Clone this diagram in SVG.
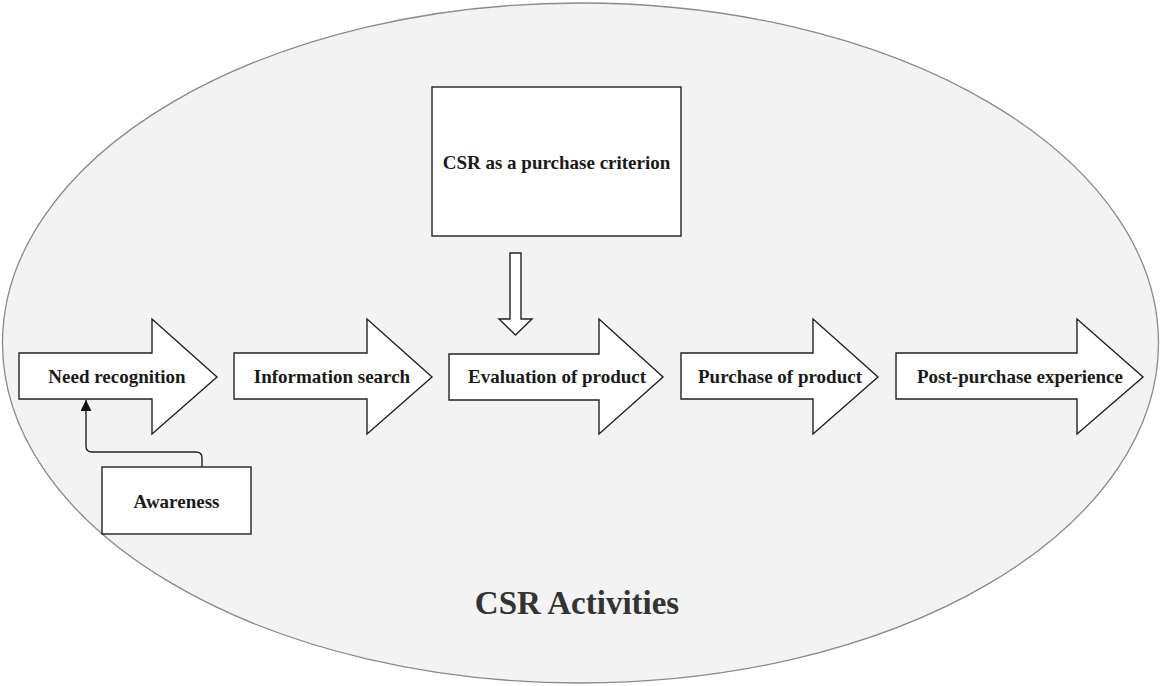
<svg xmlns="http://www.w3.org/2000/svg" width="1163" height="686" viewBox="0 0 1163 686">
<defs>
<style>
.shape{fill:#ffffff;stroke:#222222;stroke-width:1.4}
.lbl{font-family:"Liberation Serif","Times New Roman",serif;font-weight:bold;font-size:19px;fill:#1a1a1a;text-anchor:middle}
.title{font-family:"Liberation Serif","Times New Roman",serif;font-weight:bold;font-size:33px;fill:#333333;text-anchor:middle}
.conn{fill:none;stroke:#222222;stroke-width:1.4}
</style>
<marker id="ah" viewBox="0 0 10 10" refX="10" refY="5" markerWidth="11" markerHeight="11" markerUnits="userSpaceOnUse" orient="auto">
<path d="M0,0 L10,5 L0,10 Z" fill="#111111"/>
</marker>
</defs>
<rect width="1163" height="686" fill="#ffffff"/>
<g id="csr-activities">
<ellipse cx="580.5" cy="343" rx="578" ry="340" fill="#f3f3f3" stroke="#8a8a8a" stroke-width="1.3"/>
<text class="title" x="577" y="614">CSR Activities</text>
</g>
<g id="csr-criterion">
<rect class="shape" x="432" y="87" width="249" height="149"/>
<text class="lbl" x="556.5" y="169">CSR as a purchase criterion</text>
</g>
<g id="need-recognition">
<polygon class="shape" points="19,353 152,353 152,319 217,377 152,434 152,399 19,399"/>
<text class="lbl" x="117" y="383">Need recognition</text>
</g>
<g id="information-search">
<polygon class="shape" points="234,353 367,353 367,319 432,377 367,434 367,399 234,399"/>
<text class="lbl" x="332" y="383">Information search</text>
</g>
<g id="evaluation">
<polygon class="shape" points="449,354 599,354 599,319 663,377 599,434 599,400 449,400"/>
<text class="lbl" x="557" y="383">Evaluation of product</text>
</g>
<g id="purchase">
<polygon class="shape" points="681,353 813,353 813,319 878,377 813,434 813,399 681,399"/>
<text class="lbl" x="780" y="383">Purchase of product</text>
</g>
<g id="post-purchase">
<polygon class="shape" points="896,353 1077,353 1077,319 1143,377 1077,434 1077,399 896,399"/>
<text class="lbl" x="1020" y="383">Post-purchase experience</text>
</g>
<g id="awareness">
<rect class="shape" x="102" y="467" width="149" height="67"/>
<text class="lbl" x="176.5" y="508">Awareness</text>
</g>
<g id="connectors">
<path class="conn" d="M202,467 L202,458 Q202,452 196,452 L92,452 Q86,452 86,446 L86,400" marker-end="url(#ah)"/>
<polygon class="shape" points="510,253 521,253 521,319 532,319 515.5,335 499,319 510,319"/>
</g>
</svg>
